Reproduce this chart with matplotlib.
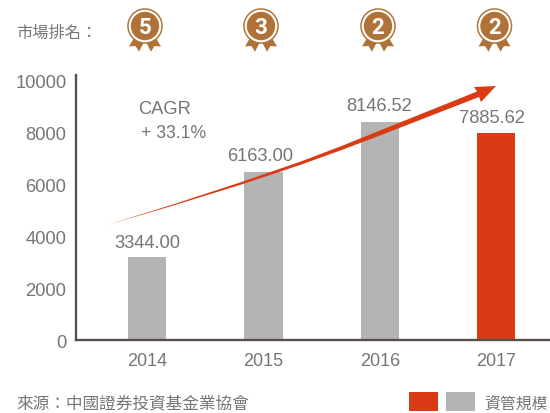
import matplotlib
matplotlib.use("Agg")
import matplotlib.pyplot as plt
from matplotlib.patches import Circle, Polygon, Rectangle
from matplotlib.transforms import ScaledTranslation

plt.rcParams['font.family'] = ['Liberation Sans', 'Noto Sans CJK TC', 'DejaVu Sans']

years = ['2014', '2015', '2016', '2017']
bar_heights = [3190, 6460, 8385, 7960]
value_labels = ['3344.00', '6163.00', '8146.52', '7885.62']
ranks = ['5', '3', '2', '2']
yticks = [0, 2000, 4000, 6000, 8000, 10000]
GRAY, RED, BRONZE, TEXT, AXIS = '#b3b4b3', '#db3b14', '#b07238', '#767676', '#574f4c'

W, H = 550, 413
fig = plt.figure(figsize=(W/100, H/100), dpi=100, facecolor='white')
L, R, T, B = 76, 550, 75, 340
ax = fig.add_axes([L/W, 1-B/H, (R-L)/W, (B-T)/H])
ax.set_ylim(0, 10192)
ax.set_xlim(-0.61, 3.46)
colors = [GRAY, GRAY, GRAY, RED]
xs = range(len(years))
ax.bar(xs, bar_heights, width=0.327, color=colors, zorder=2)
for s in ('top', 'right'):
    ax.spines[s].set_visible(False)
for s in ('left', 'bottom'):
    ax.spines[s].set_color(AXIS)
    ax.spines[s].set_linewidth(1.7)
ax.set_xticks(list(xs), years)
ax.set_yticks(yticks, [str(v) for v in yticks])
ax.tick_params(axis='both', length=0, labelcolor=TEXT)
ax.tick_params(axis='x', labelsize=13, pad=9.5)
ax.tick_params(axis='y', labelsize=13.2, pad=7)
down = ScaledTranslation(0, -1.2/100, fig.dpi_scale_trans)
for lab in ax.get_yticklabels():
    lab.set_transform(lab.get_transform() + down)

# overlay in pixel coordinates
ov = fig.add_axes([0, 0, 1, 1], zorder=5)
ov.set_xlim(0, W); ov.set_ylim(H, 0); ov.axis('off'); ov.patch.set_alpha(0)

label_pos = [(147, 244), (260.5, 156.5), (379, 106.5), (492, 118.5)]
for (x, y), s in zip(label_pos, value_labels):
    ov.text(x, y, s, ha='center', va='center', fontsize=13.2, color=TEXT)

ov.text(138, 109, 'CAGR', ha='left', va='center', fontsize=13.2, color=TEXT)
ov.text(141, 133, '+ 33.1%', ha='left', va='center', fontsize=12.7, color=TEXT)

ov.text(16, 33, '市場排名：', ha='left', va='center', fontsize=11.7, color=TEXT)
ov.text(16, 404, '來源：中國證券投資基金業協會', ha='left', va='center', fontsize=12, color=TEXT)
ov.text(484.5, 403.5, '資管規模', ha='left', va='center', fontsize=11.4, color=TEXT)
ov.add_patch(Rectangle((409, 392), 29, 19, color=RED, lw=0))
ov.add_patch(Rectangle((446, 392), 29, 19, color=GRAY, lw=0))

# rising arrow: a slightly curved, widening shaft
ov.add_patch(Polygon([(107, 225), (175, 203.8), (243, 181.5), (300, 161.8), (340, 146.6), (380, 130.5), (477, 91.5),
                      (474, 87), (496, 86), (481, 102), (479, 97),
                      (380, 135.5), (340, 150.6), (300, 165), (243, 184), (175, 205)],
                     closed=True, color=RED, lw=0))

# medals
tail = [(-11, 38), (-16, 46.5), (-9.5, 46), (-6, 51.7), (-1, 42)]
for cx, r in zip([145, 261, 378, 494.5], ranks):
    for sgn in (-1, 1):
        ov.add_patch(Polygon([(cx + sgn*a, b) for a, b in tail], closed=True, color=BRONZE, lw=0))
    ov.add_patch(Circle((cx, 26), 17.8, color=BRONZE, lw=0))
    ov.add_patch(Circle((cx, 26), 16.3, color='white', lw=0))
    ov.add_patch(Circle((cx, 26), 14.2, color=BRONZE, lw=0))
    ov.text(cx, 26, r, ha='center', va='center_baseline', color='white',
            fontsize=16, fontweight='bold', family=['Roboto', 'DejaVu Sans'])

fig.savefig('out.png', dpi=100, facecolor='white')
